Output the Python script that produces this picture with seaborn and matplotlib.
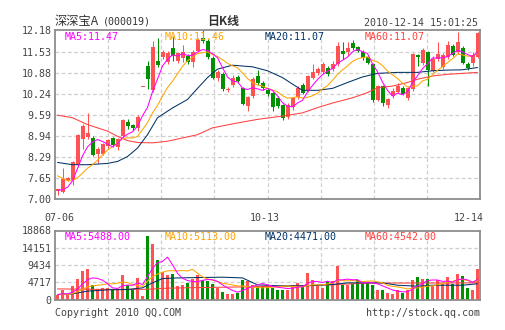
import numpy as np
import pandas as pd
import matplotlib
matplotlib.use("Agg")
import matplotlib.pyplot as plt
import seaborn as sns

# ---------------- data ----------------
opens = [7.26, 7.22, 7.58, 7.60, 8.05, 8.85, 8.90, 8.89, 8.38, 8.40,
         8.63, 8.88, 8.60, 8.95, 9.38, 9.27, 9.20, 10.45, 11.09, 10.34,
         11.24, 11.35, 11.20, 11.65, 11.25, 11.33, 11.38, 11.22, 11.55, 11.95,
         11.85, 11.33, 10.73, 10.83, 10.34, 10.50, 10.75, 10.40, 9.86, 10.17,
         10.78, 10.58, 10.36, 10.27, 10.10, 9.88, 9.52, 9.82, 10.13, 10.49,
         10.34, 10.73, 10.86, 10.89, 11.02, 10.99, 11.16, 11.55, 11.50, 11.78,
         11.66, 11.53, 11.35, 11.14, 10.05, 10.47, 9.89, 10.16, 10.30, 10.40,
         10.09, 10.37, 11.43, 11.19, 11.50, 10.94, 11.30, 11.06, 11.35, 11.71,
         11.50, 11.64, 11.16, 11.17, 11.37]
highs = [7.33, 7.95, 7.68, 8.18, 9.00, 9.30, 9.65, 8.95, 8.60, 8.72,
         8.85, 8.90, 8.88, 9.45, 9.45, 9.32, 9.58, 10.45, 11.25, 11.84,
         11.95, 11.58, 11.55, 12.00, 11.52, 11.72, 11.45, 11.58, 11.95, 12.18,
         11.90, 11.38, 10.95, 10.90, 10.45, 10.80, 10.80, 10.45, 10.18, 10.75,
         10.96, 10.62, 10.42, 10.30, 10.18, 9.92, 9.95, 10.15, 10.48, 10.55,
         10.82, 11.16, 11.05, 11.22, 11.10, 11.25, 11.81, 11.81, 11.81, 11.88,
         11.70, 11.58, 11.40, 11.18, 10.50, 10.50, 10.10, 10.40, 10.55, 10.48,
         10.45, 11.48, 11.45, 11.64, 11.55, 11.40, 11.81, 11.48, 11.86, 11.75,
         12.12, 11.70, 11.20, 11.50, 12.12]
lows = [7.12, 7.18, 7.55, 7.45, 7.98, 8.55, 8.85, 8.33, 8.10, 8.35,
        8.58, 8.60, 8.52, 8.90, 9.15, 9.12, 9.08, 10.45, 10.39, 10.30,
        11.05, 11.30, 11.15, 11.25, 11.18, 11.20, 11.15, 11.05, 11.50, 11.80,
        11.30, 10.70, 10.62, 10.32, 10.30, 10.45, 10.55, 9.88, 9.72, 10.12,
        10.50, 10.35, 10.18, 9.70, 9.80, 9.42, 9.45, 9.75, 10.08, 10.22,
        10.28, 10.68, 10.80, 10.85, 10.78, 10.92, 11.10, 11.30, 11.40, 11.58,
        11.50, 11.28, 11.15, 9.98, 10.00, 9.85, 9.80, 10.10, 10.25, 10.20,
        10.05, 10.32, 11.08, 11.12, 10.47, 10.90, 11.25, 11.00, 11.30, 11.38,
        11.45, 11.15, 10.96, 11.10, 11.32]
closes = [7.31, 7.63, 7.65, 8.15, 8.97, 9.25, 9.03, 8.36, 8.55, 8.68,
          8.82, 8.65, 8.85, 9.42, 9.24, 9.18, 9.52, 10.45, 10.68, 11.66,
          11.11, 11.52, 11.47, 11.38, 11.47, 11.50, 11.22, 11.50, 11.88, 11.85,
          11.35, 10.73, 10.89, 10.37, 10.39, 10.73, 10.63, 9.93, 10.14, 10.68,
          10.55, 10.40, 10.22, 9.82, 9.86, 9.50, 9.89, 10.09, 10.42, 10.27,
          10.78, 10.89, 10.99, 11.16, 10.83, 11.16, 11.71, 11.45, 11.64, 11.64,
          11.55, 11.33, 11.19, 10.03, 10.46, 9.96, 10.06, 10.32, 10.47, 10.24,
          10.40, 11.45, 11.37, 11.57, 10.96, 11.30, 11.45, 11.42, 11.74, 11.43,
          11.81, 11.19, 11.02, 11.43, 12.10]
volumes = [1100, 2640, 1200, 3700, 5650, 7900, 8400, 3900, 3000, 3200,
           3200, 2650, 3000, 6750, 4100, 2900, 5900, 900, 17400, 15300,
           10800, 7560, 6830, 7000, 3700, 3900, 4550, 5470, 6830, 5460,
           5000, 4280, 3190, 2090, 1370, 1550, 1820, 5460, 5000, 4100,
           3640, 3640, 3640, 3190, 2730, 2730, 2730, 4100, 4550, 3370,
           7280, 5460, 3910, 3190, 5190, 5190, 9280, 4100, 4100, 4280,
           5460, 4550, 4550, 4100, 2730, 2730, 1800, 1640, 2550, 1800,
           2730, 5460, 6190, 5730, 5730, 3600, 5400, 4300, 6100, 4300,
           6900, 6400, 3150, 2600, 8400]
# closes / volumes of the days just before the window (estimated from MA starts)
prior_closes = [8.45, 8.30, 8.20, 8.05, 7.85, 7.50, 7.30, 7.15, 7.10]
prior_volumes = [1500, 1400, 1300, 1200, 1300, 1400, 1200, 1500, 1300]

# longer averages at sample days
ma20_idx = [0, 3, 6, 10, 12, 14, 16, 18, 20, 23, 26, 28, 30, 32, 35, 39, 42, 45,
            47, 49, 52, 55, 58, 61, 64, 68, 72, 75, 78, 81, 84]
ma20_val = [8.13, 8.06, 8.06, 8.10, 8.16, 8.31, 8.57, 8.98, 9.50, 9.80, 10.06,
            10.40, 10.73, 10.99, 11.11, 11.06, 10.94, 10.73, 10.53, 10.34, 10.34,
            10.40, 10.58, 10.75, 10.86, 10.89, 10.89, 10.94, 10.96, 10.97, 11.04]
ma60_idx = [0, 3, 6, 10, 12, 14, 16, 19, 22, 25, 28, 31, 36, 40, 45, 49, 52, 55,
            59, 62, 64, 67, 70, 72, 75, 78, 81, 84]
ma60_val = [9.58, 9.50, 9.29, 9.09, 8.93, 8.80, 8.74, 8.73, 8.78, 8.88, 8.98,
            9.19, 9.34, 9.45, 9.55, 9.65, 9.81, 9.95, 10.11, 10.27, 10.42, 10.47,
            10.58, 10.68, 10.78, 10.83, 10.86, 10.89]
vma20_idx = [0, 3, 6, 10, 14, 17, 19, 21, 24, 28, 33, 37, 40, 45, 50, 55, 58,
             65, 68, 72, 75, 81, 84]
vma20_val = [1370, 1550, 2280, 2640, 2730, 3190, 4550, 5730, 5900, 6000, 6100,
             5900, 4000, 3700, 3750, 4100, 4550, 4550, 3900, 3640, 3900, 3900, 4300]
vma60_idx = [0, 10, 18, 22, 30, 40, 50, 56, 62, 70, 84]
vma60_val = [2900, 2750, 2800, 3100, 3300, 3500, 3800, 4100, 4500, 4500, 4550]

price_ticks = [7.00, 7.65, 8.29, 8.94, 9.59, 10.24, 10.88, 11.53, 12.18]
price_tick_labels = ["7.00", "7.65", "8.29", "8.94", "9.59", "10.24", "10.88", "11.53", "12.18"]
vol_ticks = [0, 4717, 9434, 14151, 18868]
vol_tick_labels = ["0", "4717", "9434", "14151", "18868"]
date_labels = ["07-06", "10-13", "12-14"]
price_legend = ["MA5:11.47", "MA10:11.46", "MA20:11.07", "MA60:11.07"]
vol_legend = ["MA5:5488.00", "MA10:5113.00", "MA20:4471.00", "MA60:4542.00"]
title_name = "深深宝A"
title_code = "(000019)"
title_kind = "日K线"
timestamp = "2010-12-14 15:01:25"
footer_left = "Copyright 2010 QQ.COM"
footer_right = "http://stock.qq.com"

# ---------------- style ----------------
sns.set_style("white")
plt.rcParams["font.family"] = ["DejaVu Sans Mono", "Noto Sans CJK SC"]
RED = "#ff5252"
GREEN = "#009000"
C5, C10, C20, C60 = "#ff00ff", "#ffa500", "#003366", "#ff4040"
GRID = "#cfcfcf"
TXT = "#444444"
MONO = 7.2
LW = 0.75

W, H = 505, 330
fig = plt.figure(figsize=(W / 100, H / 100), dpi=100)
fig.patch.set_facecolor("white")


def box(l, t, r, b):
    return [l / W, 1 - b / H, (r - l) / W, (b - t) / H]


axp = fig.add_axes(box(55, 30.3, 480, 199.3))
axv = fig.add_axes(box(55, 230.5, 480, 299.5))

n = len(closes)
idx = np.arange(n)
O = np.array(opens)
Hh = np.array(highs)
L = np.array(lows)
C = np.array(closes)
up = C >= O
cols = np.where(up, RED, GREEN)

# moving averages of price
allc = pd.Series(prior_closes + closes)
ma5 = allc.rolling(5).mean().to_numpy()[len(prior_closes):]
ma10 = allc.rolling(10).mean().to_numpy()[len(prior_closes):]

# ---------------- price panel ----------------
axp.vlines(idx, L, Hh, colors=cols, linewidth=LW, zorder=3)
body_bot = np.minimum(O, C)
body_h = np.maximum(np.abs(C - O), 0.025)
axp.bar(idx, body_h, bottom=body_bot, width=0.8, color=cols, linewidth=0, zorder=4)

sns.lineplot(x=ma60_idx, y=ma60_val, ax=axp, color=C60, linewidth=LW, zorder=5, legend=False)
sns.lineplot(x=ma20_idx, y=ma20_val, ax=axp, color=C20, linewidth=LW, zorder=5, legend=False)
sns.lineplot(x=idx, y=ma10, ax=axp, color=C10, linewidth=LW, zorder=5, legend=False)
sns.lineplot(x=idx, y=ma5, ax=axp, color=C5, linewidth=LW, zorder=6, legend=False)

axp.set_xlim(-0.5, n - 0.5)
axp.set_ylim(price_ticks[0], price_ticks[-1])
axp.set_yticks(price_ticks)
axp.set_yticklabels(price_tick_labels)
grid_x = [-0.5 + k * n / 8 for k in range(1, 8)]
axp.set_xticks([0.3, 41.5, 82.3])
axp.set_xticklabels(date_labels)
axp.grid(False)
for y in price_ticks[1:-1]:
    axp.axhline(y, color=GRID, linewidth=0.9, linestyle=(0, (3, 2)), zorder=1)
for x in grid_x:
    axp.axvline(x, color=GRID, linewidth=0.9, linestyle=(0, (3, 2)), zorder=1)
axp.tick_params(axis="both", which="both", length=0, labelsize=MONO, colors=TXT)
axp.tick_params(axis="y", pad=2.5)
axp.tick_params(axis="x", pad=10)
axp.set_xlabel("")
axp.set_ylabel("")

# ---------------- volume panel ----------------
vdf = pd.DataFrame({"day": idx, "vol": volumes, "dir": np.where(up, "up", "down")})
sns.barplot(data=vdf, x="day", y="vol", hue="dir", palette={"up": RED, "down": GREEN},
            native_scale=True, dodge=False, width=0.78, saturation=1, errorbar=None,
            linewidth=0, legend=False, ax=axv, zorder=3)
allv = pd.Series(prior_volumes + volumes)
vma5 = allv.rolling(5).mean().to_numpy()[len(prior_volumes):]
vma10 = allv.rolling(10).mean().to_numpy()[len(prior_volumes):]
sns.lineplot(x=vma60_idx, y=vma60_val, ax=axv, color=C60, linewidth=LW, zorder=5, legend=False)
sns.lineplot(x=vma20_idx, y=vma20_val, ax=axv, color=C20, linewidth=LW, zorder=5, legend=False)
sns.lineplot(x=idx, y=vma10, ax=axv, color=C10, linewidth=LW, zorder=5, legend=False)
sns.lineplot(x=idx, y=vma5, ax=axv, color=C5, linewidth=LW, zorder=6, legend=False)

axv.set_xlim(-0.5, n - 0.5)
axv.set_ylim(0, vol_ticks[-1])
axv.set_yticks(vol_ticks)
axv.set_yticklabels(vol_tick_labels)
axv.set_xticks([])
axv.grid(False)
for y in vol_ticks[1:-1]:
    axv.axhline(y, color=GRID, linewidth=0.9, linestyle=(0, (3, 2)), zorder=1)
for x in grid_x:
    axv.axvline(x, color=GRID, linewidth=0.9, linestyle=(0, (3, 2)), zorder=1)
axv.tick_params(axis="both", length=0, labelsize=MONO, colors=TXT, pad=2.5)
axv.set_xlabel("")
axv.set_ylabel("")

for ax in (axp, axv):
    for s in ax.spines.values():
        s.set_visible(True)
        s.set_color("#8c8c8c")
        s.set_linewidth(1.3)
        s.set_zorder(10)

# ---------------- texts ----------------
def ftext(x, y, s, **kw):
    fig.text(x / W, 1 - y / H, s, va="center", **kw)

ftext(55, 21, title_name, fontsize=8.8, color="#333333", family=["Noto Sans CJK SC"])
ftext(103, 21.5, title_code, fontsize=MONO, color="#333333")
ftext(207, 21, title_kind, fontsize=8.6, color="#333333", family=["Noto Sans CJK SC"], fontweight="bold")
ftext(478, 22.5, timestamp, fontsize=MONO, color=TXT, ha="right")

for s, x, c in zip(price_legend, [65, 165, 265, 365], [C5, C10, C20, C60]):
    ftext(x, 37, s, fontsize=MONO, color=c)
for s, x, c in zip(vol_legend, [65, 165, 265, 365], [C5, C10, C20, C60]):
    ftext(x, 237.5, s, fontsize=MONO, color=c)

ftext(55, 312.5, footer_left, fontsize=MONO, color=TXT)
ftext(480, 312.5, footer_right, fontsize=MONO, color=TXT, ha="right")

fig.savefig("out.png", dpi=100, facecolor="white")
